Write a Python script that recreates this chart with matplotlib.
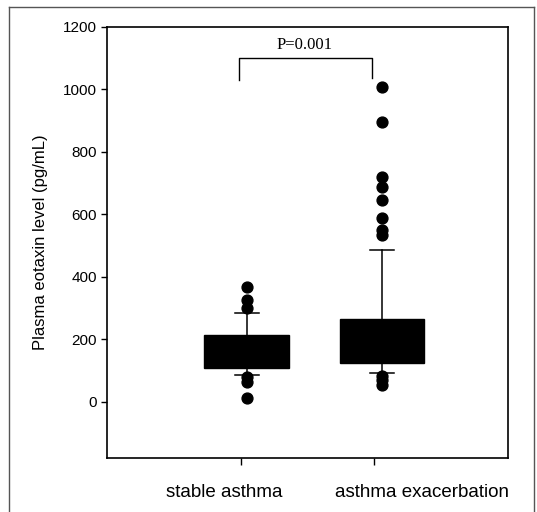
import matplotlib
matplotlib.use('Agg')
import matplotlib.pyplot as plt
from matplotlib.lines import Line2D

plt.rcParams['font.family'] = ['Liberation Sans', 'DejaVu Sans']

# group labels and summary values (pg/mL)
groups = ['stable asthma', 'asthma exacerbation']
q1 = [109, 125]
median = [160, 202]
q3 = [214, 265]
whisker_low = [86, 93]
whisker_high = [285, 486]
outliers = [
    [368, 326, 300, 80, 64, 13],
    [1009, 897, 721, 689, 646, 588, 550, 534, 83, 70, 55],
]
p_text = 'P=0.001'

box_pos = [1.045, 2.06]

fig = plt.figure(figsize=(5.37, 5.12), dpi=100)
ax = fig.add_axes([0.199, 0.1055, 0.747, 0.842])

stats = []
for i in range(len(groups)):
    stats.append({'med': median[i], 'q1': q1[i], 'q3': q3[i],
                  'whislo': whisker_low[i], 'whishi': whisker_high[i],
                  'fliers': outliers[i]})

ax.bxp(stats, positions=box_pos, widths=0.63, capwidths=0.18,
       patch_artist=True, showfliers=True,
       boxprops=dict(facecolor='black', edgecolor='black', linewidth=1),
       medianprops=dict(color='black', linewidth=0.8),
       whiskerprops=dict(color='black', linewidth=1.1),
       capprops=dict(color='black', linewidth=1.1),
       flierprops=dict(marker='o', markerfacecolor='black', markeredgecolor='black',
                       markersize=7.8, linestyle='none'))

ax.set_xlim(0, 3)
ax.set_ylim(-180, 1200)
ax.set_yticks(range(0, 1201, 200))
ax.set_xticks([1, 2])
ax.set_xticklabels(['', ''])
ax.tick_params(axis='y', direction='out', length=4, width=1, labelsize=11, pad=3)
ax.tick_params(axis='x', direction='out', length=5, width=1)
for sp in ax.spines.values():
    sp.set_linewidth(1.2)

ax.set_ylabel('Plasma eotaxin level (pg/mL)', fontsize=12, labelpad=11)

# group names sit a bit off their ticks in the original
ax.text(0.88, -0.079, groups[0], transform=ax.get_xaxis_transform(),
        ha='center', va='center', fontsize=13.5)
ax.text(2.36, -0.079, groups[1], transform=ax.get_xaxis_transform(),
        ha='center', va='center', fontsize=13.5)

# significance bracket
ax.plot([0.99, 0.99, 1.98, 1.98], [1030, 1100, 1100, 1035], color='black', lw=1)
ax.text(1.48, 1142, p_text, ha='center', va='center', fontsize=12,
        family=['Liberation Serif', 'DejaVu Serif'])

# thin frame around the whole picture
for xs, ys in [([9 / 537, 9 / 537], [0, 1 - 7 / 512]),
               ([9 / 537, 534 / 537], [1 - 7 / 512, 1 - 7 / 512]),
               ([534 / 537, 534 / 537], [1 - 7 / 512, 0])]:
    fig.add_artist(Line2D(xs, ys, color='#555555', lw=1))

fig.savefig('out.png', dpi=100)
